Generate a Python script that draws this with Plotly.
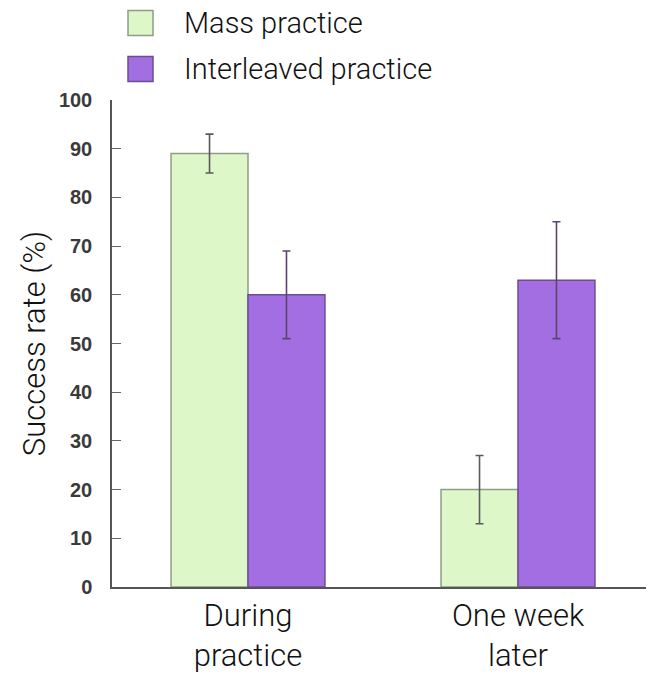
import plotly.graph_objects as go

# Success rate by practice schedule, measured during practice and one week later
categories = ["During<br>practice", "One week<br>later"]
mass_rate = [89, 20]
mass_err = [4, 7]
interleaved_rate = [60, 63]
interleaved_err = [9, 12]
series_names = ["Mass practice", "Interleaved practice"]
y_ticks = list(range(0, 101, 10))

W, H = 648, 688
L, R, T, B = 112, 2, 100, 101
plot_w = W - L - R
plot_h = H - T - B

COND = "Liberation Sans Narrow, Roboto, sans-serif"
MASS_FILL, MASS_LINE = "#def7c9", "#8f9c86"
INT_FILL, INT_LINE = "#a36ee2", "#6d4c93"

x_pos = list(range(len(categories)))

fig = go.Figure()
fig.add_trace(go.Bar(
    x=x_pos, y=mass_rate, name=series_names[0], offsetgroup="m",
    marker=dict(color=MASS_FILL, line=dict(color=MASS_LINE, width=1.5)),
    error_y=dict(type="data", array=mass_err, color="#5a5a5a", thickness=1.6, width=4),
    showlegend=False,
))
fig.add_trace(go.Bar(
    x=x_pos, y=interleaved_rate, name=series_names[1], offsetgroup="i",
    marker=dict(color=INT_FILL, line=dict(color=INT_LINE, width=1.5)),
    error_y=dict(type="data", array=interleaved_err, color="#5b4470", thickness=1.6, width=4),
    showlegend=False,
))


def px_x(px):
    return (px - L) / plot_w


def px_y(py):
    return (H - B - py) / plot_h


# Legend drawn as large swatches with text beside them
legend_rows = [(series_names[0], MASS_FILL, MASS_LINE, 23), (series_names[1], INT_FILL, INT_LINE, 69)]
for name, fill, line, cy in legend_rows:
    fig.add_shape(type="rect", xref="paper", yref="paper",
                  x0=px_x(128), x1=px_x(153), y0=px_y(cy - 12.5), y1=px_y(cy + 12.5),
                  fillcolor=fill, line=dict(color=line, width=1.5))
    fig.add_annotation(text=name, xref="paper", yref="paper", x=px_x(182), y=px_y(cy),
                       xanchor="left", yanchor="middle", showarrow=False,
                       font=dict(family=COND, size=29, color="#111111", weight=300))

fig.update_layout(
    width=W, height=H,
    margin=dict(l=L, r=R, t=T, b=B),
    paper_bgcolor="white", plot_bgcolor="white",
    barmode="group", bargap=0.43, bargroupgap=0,
    xaxis=dict(
        range=[-(248 - L) / 270, (W - R - 248) / 270],
        tickmode="array", tickvals=x_pos, ticktext=categories,
        showgrid=False, zeroline=False, showline=True, linecolor="#555555", linewidth=1.5,
        ticks="", tickfont=dict(family=COND, size=31, color="#111111", weight=300),
    ),
    yaxis=dict(
        range=[0, 100], tickmode="array", tickvals=y_ticks,
        showgrid=False, zeroline=False, showline=True, linecolor="#555555", linewidth=1.5,
        ticks="inside", ticklen=9, tickcolor="#666666", tickwidth=1.2,
        ticklabelstandoff=14,
        tickfont=dict(family="Liberation Sans, Arial, sans-serif", size=20, color="#3a3a3a", weight="bold"),
        title=dict(text="Success rate (%)", standoff=4,
                   font=dict(family=COND, size=31, color="#111111", weight=300)),
    ),
)

fig.write_html("out.html")
